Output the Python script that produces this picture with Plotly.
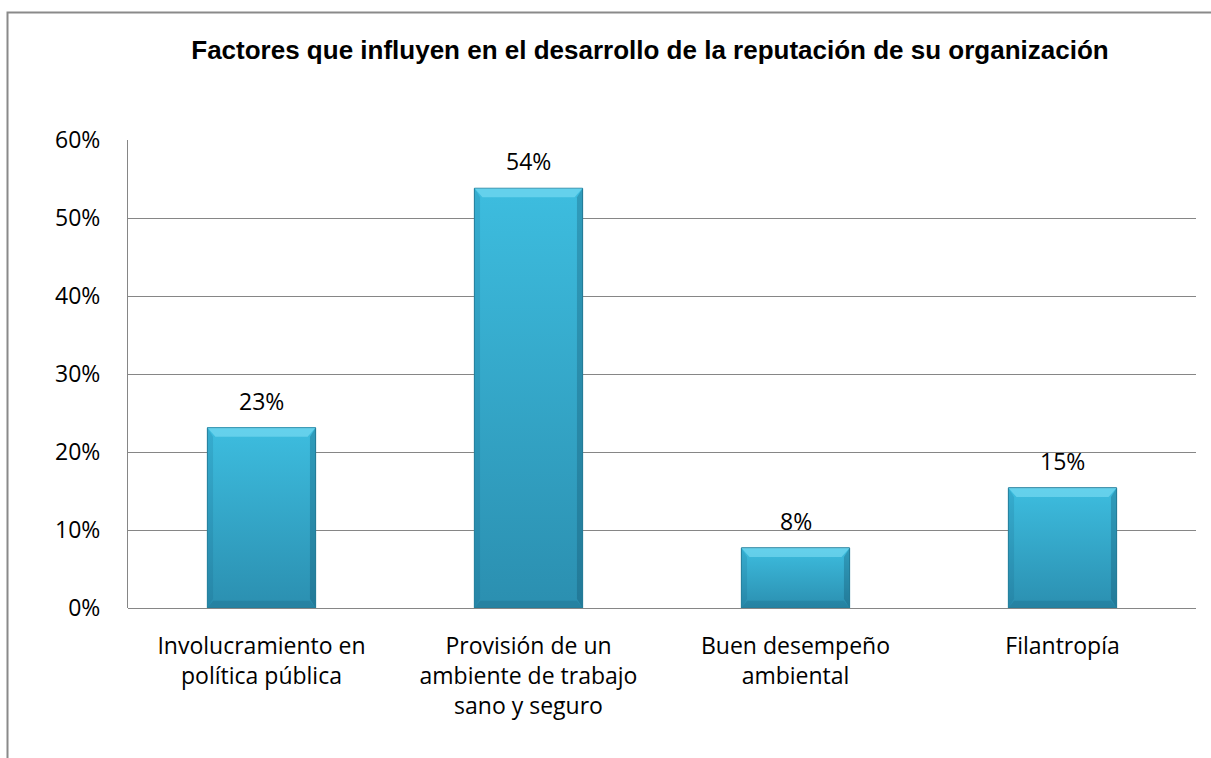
import plotly.graph_objects as go

# Survey results: factors shaping the organisation's reputation
categories = [
    "Involucramiento en<br>política pública",
    "Provisión de un<br>ambiente de trabajo<br>sano y seguro",
    "Buen desempeño<br>ambiental",
    "Filantropía",
]
shares = [0.231, 0.538, 0.077, 0.154]
y_ticks = [0.0, 0.1, 0.2, 0.3, 0.4, 0.5, 0.6]

chart_title = "Factores que influyen en el desarrollo de la reputación de su organización"

# Geometry of the figure (pixels)
W, H = 1211, 758
M_L, M_R, M_T, M_B = 128, 15, 140, 150
plot_w = W - M_L - M_R
plot_h = H - M_T - M_B
y_max = y_ticks[-1]

BAR_W = 0.405                              # bar width in category units
bev_y = 9 / (plot_h / y_max)               # 9 px bevel, in value units
bev_x = 8 / (plot_w / len(categories))     # 8 px bevel, in category units

LABEL_FONT = dict(family="Open Sans, sans-serif", size=23, color="#000000")
GRID = "#868686"

positions = list(range(len(categories)))

fig = go.Figure()

# Base bars
fig.add_trace(go.Bar(
    x=positions, y=shares, width=BAR_W,
    marker=dict(color="#36a8ca", line=dict(color="#2a86a3", width=1)),
    hoverinfo="skip", showlegend=False,
))

# Gradient body and bevelled edges on top of each bar
for xi, v in zip(positions, shares):
    x0, x1 = xi - BAR_W / 2, xi + BAR_W / 2
    fig.add_trace(go.Scatter(
        x=[x0, x1, x1, x0, x0], y=[0, 0, v, v, 0],
        mode="lines", line=dict(width=1, color="#2a86a3"), fill="toself",
        fillgradient=dict(type="vertical",
                          colorscale=[[0, "#2b8fb0"], [1, "#3dbddf"]]),
        hoverinfo="skip", showlegend=False,
    ))
    # top bevel (highlight)
    fig.add_trace(go.Scatter(
        x=[x0, x1, x1 - bev_x, x0 + bev_x, x0],
        y=[v, v, v - bev_y, v - bev_y, v],
        mode="lines", line=dict(width=0), fill="toself",
        fillcolor="rgba(140,230,250,0.5)",
        hoverinfo="skip", showlegend=False,
    ))
    # left bevel
    fig.add_trace(go.Scatter(
        x=[x0, x0 + bev_x * 0.7, x0 + bev_x * 0.7, x0, x0],
        y=[v, v - bev_y, bev_y, 0, v],
        mode="lines", line=dict(width=0), fill="toself",
        fillcolor="rgba(15,80,110,0.14)",
        hoverinfo="skip", showlegend=False,
    ))
    # right bevel
    fig.add_trace(go.Scatter(
        x=[x1, x1 - bev_x * 0.7, x1 - bev_x * 0.7, x1, x1],
        y=[v, v - bev_y, bev_y, 0, v],
        mode="lines", line=dict(width=0), fill="toself",
        fillcolor="rgba(10,60,85,0.26)",
        hoverinfo="skip", showlegend=False,
    ))
    # bottom bevel
    fig.add_trace(go.Scatter(
        x=[x0, x1, x1 - bev_x * 0.7, x0 + bev_x * 0.7, x0],
        y=[0, 0, bev_y * 0.8, bev_y * 0.8, 0],
        mode="lines", line=dict(width=0), fill="toself",
        fillcolor="rgba(10,60,85,0.16)",
        hoverinfo="skip", showlegend=False,
    ))
    # value label above the bar
    fig.add_annotation(
        x=xi, y=v, text=f"{v:.0%}", showarrow=False,
        xanchor="center", yanchor="bottom", yshift=9,
        font=LABEL_FONT,
    )

# Outer chart frame (runs off the right and bottom edges)
fig.add_shape(
    type="rect", xref="paper", yref="paper",
    x0=(7.5 - M_L) / plot_w, x1=(W + 10 - M_L) / plot_w,
    y0=-(H + 10 - M_T - plot_h) / plot_h, y1=(H - M_B - 12.5) / plot_h,
    line=dict(color="#8a8a8a", width=2), fillcolor="rgba(0,0,0,0)",
    layer="below",
)

fig.update_layout(
    width=W, height=H,
    margin=dict(l=M_L, r=M_R, t=M_T, b=M_B),
    paper_bgcolor="white", plot_bgcolor="white",
    showlegend=False,
    title=dict(
        text="<b>" + chart_title + "</b>",
        font=dict(family="Liberation Sans, Arial, sans-serif", size=26, color="#000000"),
        x=650 / W, xanchor="center",
        y=1 - 50 / H, yanchor="middle",
    ),
    xaxis=dict(
        range=[-0.5, len(categories) - 0.5],
        tickvals=positions, ticktext=categories,
        showgrid=False, zeroline=False, showline=False,
        ticks="", tickfont=LABEL_FONT, ticklabelstandoff=22,
        fixedrange=True,
    ),
    yaxis=dict(
        range=[0, y_max], tickvals=y_ticks, tickformat=".0%",
        showgrid=True, gridcolor=GRID, gridwidth=1,
        zeroline=True, zerolinecolor=GRID, zerolinewidth=1,
        showline=True, linecolor=GRID, linewidth=1,
        ticks="", tickfont=LABEL_FONT, ticklabelstandoff=22,
        fixedrange=True,
    ),
    bargap=0.595,
)

fig.write_html("out.html")
